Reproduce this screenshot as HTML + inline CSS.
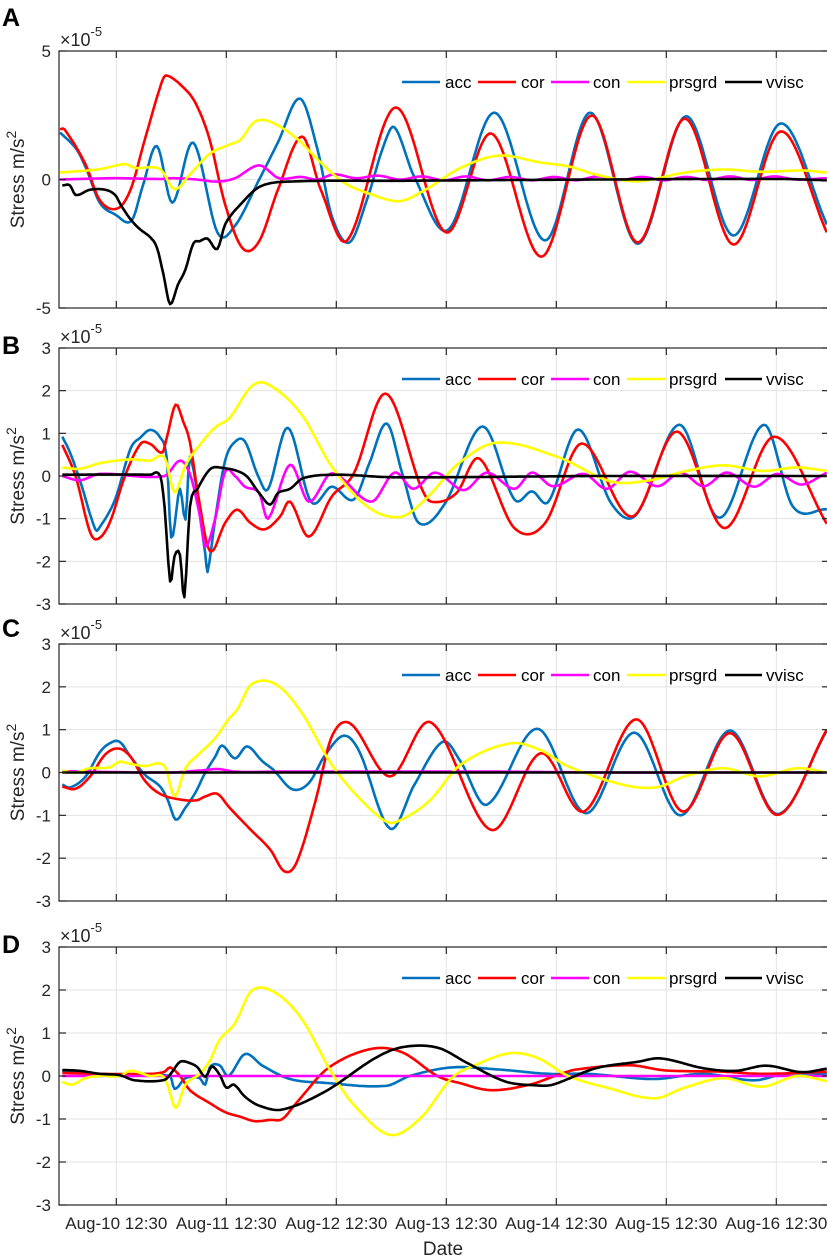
<!DOCTYPE html>
<html><head><meta charset="utf-8"><style>
html,body{margin:0;padding:0;background:#fff;}
svg{display:block;font-family:"Liberation Sans",Arial,sans-serif;}
</style></head><body>
<svg id="chart" width="827" height="1257" viewBox="0 0 827 1257" xmlns="http://www.w3.org/2000/svg"></svg>
<script>
// ---- data (days since Aug-10 00:00, values in 1e-5 m/s^2) ----
const dayTicks = [0.521,1.521,2.521,3.521,4.521,5.521,6.521];
const dayTickLabels = ["Aug-10 12:30","Aug-11 12:30","Aug-12 12:30","Aug-13 12:30","Aug-14 12:30","Aug-15 12:30","Aug-16 12:30"];
const seriesNames = ["acc","cor","con","prsgrd","vvisc"];
const ticksA = [-5,0,5];
const ticksBCD = [-3,-2,-1,0,1,2,3];

const A_acc_t=[0.01,0.16,0.25,0.37,0.51,0.66,0.76,0.89,1.03,1.22,1.44,1.60,1.82,1.99,2.19,2.35,2.48,2.64,2.80,2.95,3.05,3.23,3.54,3.96,4.42,4.83,5.26,5.70,6.13,6.56,6.98];
const A_acc_v=[1.83,1.17,0.4,-0.9,-1.36,-1.6,-0.27,1.3,-0.9,1.43,-2.06,-1.8,0,1.44,3.15,1.17,-1.43,-2.45,-0.78,1.3,2.03,0.1,-1.95,2.6,-2.37,2.6,-2.5,2.46,-2.18,2.18,-1.75];
const A_cor_t=[0.01,0.05,0.24,0.37,0.53,0.65,0.78,0.92,0.97,1.15,1.25,1.37,1.51,1.67,1.82,1.99,2.21,2.38,2.62,3.06,3.52,3.93,4.39,4.84,5.26,5.69,6.13,6.56,6.98];
const A_cor_v=[1.95,1.95,0.6,-0.8,-1.13,-0.4,1.55,3.6,4.05,3.5,2.9,1.55,-0.97,-2.68,-2.4,-0.4,1.67,-0.4,-2.37,2.8,-2.06,1.79,-3.0,2.49,-2.45,2.37,-2.53,1.87,-2.06];
const A_con_t=[0.01,0.5,0.92,1.05,1.25,1.44,1.6,1.82,2.0,2.2,2.35,2.5,2.7,2.9,3.1,3.3,3.5,3.7,3.9,4.1,4.3,4.5,4.7,4.9,5.1,5.3,5.5,5.7,5.9,6.1,6.3,6.5,6.7,6.98];
const A_con_v=[0,0.05,0.02,0.05,0.0,-0.08,0.05,0.55,0.05,0.1,0.0,0.2,0.05,0.15,0.0,0.12,-0.03,0.12,-0.03,0.1,-0.03,0.1,-0.03,0.12,-0.02,0.1,-0.03,0.1,-0.02,0.12,-0.02,0.12,0,0.05];
const A_prs_t=[0.01,0.37,0.60,0.69,0.92,1.05,1.19,1.37,1.55,1.65,1.78,1.92,2.16,2.38,2.59,2.84,3.10,3.33,3.65,4.00,4.38,4.63,4.91,5.26,5.69,6.04,6.39,6.75,6.98];
const A_prs_v=[0.27,0.4,0.6,0.45,0.4,-0.38,0.2,1.0,1.36,1.55,2.25,2.25,1.6,0.66,-0.12,-0.58,-0.84,-0.4,0.45,0.93,0.66,0.51,0.16,-0.07,0.27,0.39,0.3,0.35,0.27];
const A_vis_t=[0.03,0.10,0.15,0.28,0.42,0.51,0.57,0.66,0.74,0.83,0.89,0.95,1.01,1.08,1.15,1.22,1.28,1.35,1.44,1.51,1.65,1.83,2.10,3.10,4.92,6.55,6.98];
const A_vis_v=[-0.23,-0.23,-0.6,-0.4,-0.4,-0.6,-1.05,-1.6,-1.95,-2.25,-2.65,-3.7,-4.85,-4.1,-3.5,-2.5,-2.4,-2.3,-2.7,-1.75,-0.97,-0.27,-0.08,-0.05,0,0.02,-0.03];

const B_acc_t=[0.03,0.10,0.19,0.33,0.37,0.51,0.65,0.74,0.83,0.92,0.98,1.02,1.10,1.15,1.19,1.33,1.35,1.42,1.51,1.60,1.69,1.81,1.90,2.08,2.29,2.48,2.68,2.82,2.98,3.12,3.27,3.51,3.85,4.14,4.30,4.45,4.72,5.02,5.25,5.64,5.94,6.07,6.41,6.67,6.98];
const B_acc_v=[0.92,0.55,-0.1,-1.25,-1.2,-0.55,0.64,0.9,1.08,0.9,0.41,-1.44,-0.3,-1.02,0.45,-1.83,-2.25,-1.0,0.36,0.8,0.81,0,-0.31,1.13,-0.6,-0.25,-0.55,0.29,1.23,0.06,-1.1,-0.64,1.16,-0.55,-0.36,-0.6,1.09,-0.64,-0.9,1.2,-0.83,-0.83,1.2,-0.71,-0.78];
const B_cor_t=[0.03,0.15,0.28,0.35,0.46,0.60,0.74,0.83,0.94,0.98,1.06,1.13,1.19,1.26,1.37,1.51,1.62,1.74,1.87,2.01,2.10,2.27,2.48,2.68,2.97,3.29,3.38,3.61,3.82,4.14,4.42,4.75,5.21,5.62,6.05,6.50,6.98];
const B_cor_v=[0.73,0,-1.3,-1.48,-1.1,0,0.75,0.75,0.55,0.9,1.67,1.27,0.8,-0.37,-1.75,-1.1,-0.79,-1.1,-1.25,-0.95,-0.6,-1.42,-0.48,0.06,1.93,-0.25,-0.6,-0.41,0.41,-1.22,-1.1,0.76,-0.95,1.04,-1.22,0.92,-1.12];
const B_con_t=[0.03,0.19,0.37,0.96,1.10,1.19,1.28,1.33,1.42,1.51,1.60,1.69,1.82,1.90,2.10,2.27,2.48,2.84,3.05,3.22,3.42,3.68,3.89,4.14,4.30,4.49,4.77,4.98,5.19,5.44,5.65,5.86,6.07,6.32,6.53,6.75,6.98];
const B_con_v=[0,-0.1,0.05,0,0.36,0.05,-0.92,-1.65,-1.0,0.1,0,-0.25,-0.4,-1.0,0.26,-0.6,0.06,-0.6,0.08,-0.3,0.08,-0.33,0.08,-0.3,0.08,-0.24,0.05,-0.3,0.1,-0.24,0.08,-0.24,0.08,-0.25,0.05,-0.2,0.08];
const B_prs_t=[0.03,0.19,0.37,0.65,0.83,0.96,1.05,1.15,1.28,1.42,1.55,1.75,1.90,2.20,2.48,2.80,3.10,3.33,3.63,3.98,4.53,5.02,5.37,5.69,6.04,6.39,6.71,6.98];
const B_prs_v=[0.2,0.17,0.3,0.39,0.36,0.43,-0.38,0.25,0.73,1.14,1.36,2.1,2.15,1.46,0.22,-0.71,-0.96,-0.55,0.29,0.78,0.45,-0.13,-0.1,0.11,0.25,0.12,0.2,0.12];
const B_vis_t=[0.03,0.83,0.92,0.96,1.01,1.05,1.10,1.14,1.19,1.26,1.37,1.46,1.69,1.82,1.92,1.99,2.10,2.22,2.52,3.05,4.92,6.98];
const B_vis_v=[0.03,0.03,0,-0.73,-2.47,-1.88,-1.85,-2.84,-0.73,-0.3,0.15,0.2,0.03,-0.4,-0.67,-0.4,-0.3,-0.05,0.03,-0.03,0,0];

const C_acc_t=[0.03,0.10,0.24,0.37,0.46,0.55,0.65,0.78,0.92,0.99,1.06,1.15,1.24,1.33,1.42,1.48,1.60,1.71,1.85,1.95,2.12,2.27,2.42,2.59,2.73,3.01,3.23,3.49,3.65,3.89,4.35,4.79,5.23,5.65,6.10,6.53,6.98];
const C_acc_v=[-0.28,-0.35,-0.1,0.47,0.68,0.72,0.37,-0.05,-0.33,-0.65,-1.1,-0.82,-0.47,0,0.37,0.63,0.33,0.61,0.26,0.06,-0.39,-0.25,0.41,0.86,0.49,-1.31,-0.29,0.72,0.26,-0.75,1.02,-0.95,0.93,-1.0,0.98,-0.97,0.98];
const C_cor_t=[0.03,0.15,0.28,0.42,0.54,0.65,0.78,0.92,1.10,1.25,1.33,1.44,1.55,1.74,1.92,2.05,2.16,2.33,2.48,2.65,3.01,3.38,3.93,4.38,4.77,5.25,5.67,6.10,6.53,6.98];
const C_cor_v=[-0.33,-0.38,-0.1,0.42,0.56,0.37,-0.19,-0.5,-0.63,-0.65,-0.56,-0.5,-0.82,-1.33,-1.8,-2.31,-2.1,-0.68,0.84,1.14,-0.09,1.17,-1.34,0.45,-0.91,1.24,-0.91,0.92,-0.99,1.0];
const C_con_t=[0.03,1.0,1.3,1.45,1.6,2.0,3.0,4.0,5.0,6.0,6.98];
const C_con_v=[0.03,0.0,0.05,0.08,0.02,0.02,0.02,0.02,0,0,0];
const C_prs_t=[0.03,0.15,0.28,0.46,0.55,0.65,0.78,0.96,1.05,1.15,1.28,1.42,1.54,1.62,1.75,1.97,2.20,2.48,2.73,2.97,3.08,3.36,3.65,4.10,4.38,4.63,5.15,5.44,5.69,6.04,6.37,6.71,6.98];
const C_prs_v=[0.04,0,0.1,0.12,0.25,0.2,0.15,0.15,-0.55,0.1,0.45,0.8,1.24,1.47,2.06,2.06,1.42,0.18,-0.6,-1.14,-1.14,-0.68,0.18,0.68,0.52,0.14,-0.3,-0.34,-0.09,0.1,-0.09,0.1,0];
const C_vis_t=[0.03,1.0,2.0,3.0,4.0,5.0,6.0,6.98];
const C_vis_v=[0,0,0,0,0,0,0,0];

const D_acc_t=[0.03,0.19,0.37,1.01,1.05,1.15,1.28,1.33,1.37,1.46,1.54,1.69,1.85,2.10,2.42,2.97,3.19,3.57,4.00,4.45,4.81,5.41,5.86,6.32,6.60,6.98];
const D_acc_v=[0.12,0.07,0.02,0,-0.3,-0.05,-0.05,-0.2,0.2,0.25,0,0.51,0.24,-0.07,-0.16,-0.23,0,0.2,0.15,0.05,0.05,-0.07,0.05,-0.1,0.05,0.05];
const D_cor_t=[0.03,0.37,0.83,0.96,1.01,1.10,1.19,1.37,1.51,1.65,1.78,1.92,2.03,2.16,2.45,2.84,3.12,3.44,3.65,3.93,4.28,4.53,4.70,5.19,5.51,6.04,6.39,6.98];
const D_cor_v=[0.07,0.05,0.05,0.1,0.2,0.0,-0.33,-0.63,-0.84,-0.95,-1.05,-1.02,-1.0,-0.62,0.19,0.63,0.55,0,-0.17,-0.33,-0.2,0.02,0.15,0.25,0.13,0.1,0.05,0.1];
const D_con_t=[0.03,1.0,2.0,3.0,4.0,5.0,6.0,6.98];
const D_con_v=[0,0,0,0,0,0,0,0];
const D_prs_t=[0.03,0.12,0.24,0.37,0.55,0.65,0.83,0.94,0.99,1.06,1.15,1.28,1.37,1.46,1.60,1.75,1.95,2.20,2.48,2.69,3.01,3.29,3.57,3.79,4.10,4.35,4.63,4.98,5.41,5.69,6.04,6.39,6.71,6.98];
const D_prs_v=[-0.14,-0.2,-0.05,0,0,0.12,0,0,-0.23,-0.74,-0.2,0.05,0.35,0.84,1.23,1.98,1.96,1.35,0.07,-0.7,-1.37,-0.97,-0.05,0.26,0.53,0.42,0,-0.27,-0.52,-0.27,-0.05,-0.25,0,-0.12];
const D_vis_t=[0.03,0.19,0.37,0.55,0.69,0.96,1.03,1.10,1.19,1.26,1.33,1.39,1.46,1.52,1.59,1.69,1.82,2.03,2.42,2.87,3.12,3.44,3.72,4.06,4.35,4.49,4.88,5.26,5.47,5.86,6.15,6.43,6.75,6.98];
const D_vis_v=[0.14,0.12,0.05,0.02,-0.1,-0.09,0.1,0.33,0.3,0.2,-0.02,0.22,0.03,-0.27,-0.2,-0.48,-0.69,-0.78,-0.36,0.41,0.67,0.66,0.29,-0.13,-0.22,-0.2,0.18,0.33,0.41,0.18,0.12,0.24,0.09,0.17];

// ---- rendering ----
const NS="http://www.w3.org/2000/svg";
const svg=document.getElementById('chart');
const colors={acc:"#0072BD",cor:"#FF0000",con:"#FF00FF",prsgrd:"#FFFF00",vvisc:"#000000"};
const X0=59, X1=829, PXD=110;
const xOf=d=>X0+d*PXD;
function mk(tag,attrs,parent){const e=document.createElementNS(NS,tag);for(const k in attrs)e.setAttribute(k,attrs[k]);(parent||svg).appendChild(e);return e;}
function smoothPath(ts,vs,yOf){
  const n=ts.length;const m=[];
  for(let i=0;i<n;i++){
    if(i===0)m.push((vs[1]-vs[0])/(ts[1]-ts[0]));
    else if(i===n-1)m.push((vs[n-1]-vs[n-2])/(ts[n-1]-ts[n-2]));
    else m.push((vs[i+1]-vs[i-1])/(ts[i+1]-ts[i-1]));
  }
  let d="M"+xOf(ts[0]).toFixed(1)+","+yOf(vs[0]).toFixed(1);
  for(let i=0;i<n-1;i++){
    const h=ts[i+1]-ts[i];const steps=Math.max(2,Math.ceil(h*PXD/2));
    for(let s=1;s<=steps;s++){
      const u=s/steps,u2=u*u,u3=u2*u;
      const v=(2*u3-3*u2+1)*vs[i]+(u3-2*u2+u)*h*m[i]+(-2*u3+3*u2)*vs[i+1]+(u3-u2)*h*m[i+1];
      d+="L"+xOf(ts[i]+u*h).toFixed(1)+","+yOf(v).toFixed(1);
    }
  }
  return d;
}
const panels=[
 {id:"A",top:51,bot:308,min:-5,max:5,ticks:ticksA,letterY:17,
  s:[[A_acc_t,A_acc_v],[A_cor_t,A_cor_v],[A_con_t,A_con_v],[A_prs_t,A_prs_v],[A_vis_t,A_vis_v]]},
 {id:"B",top:348,bot:604,min:-3,max:3,ticks:ticksBCD,letterY:345,
  s:[[B_acc_t,B_acc_v],[B_cor_t,B_cor_v],[B_con_t,B_con_v],[B_prs_t,B_prs_v],[B_vis_t,B_vis_v]]},
 {id:"C",top:644,bot:901,min:-3,max:3,ticks:ticksBCD,letterY:628,
  s:[[C_acc_t,C_acc_v],[C_cor_t,C_cor_v],[C_con_t,C_con_v],[C_prs_t,C_prs_v],[C_vis_t,C_vis_v]]},
 {id:"D",top:947,bot:1205,min:-3,max:3,ticks:ticksBCD,letterY:944,
  s:[[D_acc_t,D_acc_v],[D_cor_t,D_cor_v],[D_con_t,D_con_v],[D_prs_t,D_prs_v],[D_vis_t,D_vis_v]]}
];
const legX=[[402,440,445],[478,516,521],[551,589,593],[627,665,669],[725,762,766]];
panels.forEach((p,pi)=>{
  const yOf=v=>p.bot-(v-p.min)/(p.max-p.min)*(p.bot-p.top);
  const g=mk('g',{});
  
  
  const cp=mk('clipPath',{id:'clip'+p.id},g);
  mk('rect',{x:X0,y:p.top,width:X1-X0,height:p.bot-p.top},cp);
  dayTicks.forEach(d=>{
    const l=mk('line',{x1:xOf(d),x2:xOf(d),y1:p.top,y2:p.bot,stroke:"#e3e3e3","stroke-width":1},g);
    
    
  });
  p.ticks.forEach(t=>{
    if(t===p.min||t===p.max)return;
    const l=mk('line',{x1:X0,x2:X1,y1:yOf(t),y2:yOf(t),stroke:"#e3e3e3","stroke-width":1},g);
    
    
  });
  p.s.forEach((ser,si)=>{
    const path=mk('path',{d:smoothPath(ser[0],ser[1],yOf),fill:"none",stroke:colors[seriesNames[si]],"stroke-width":2.6,"stroke-linejoin":"round","clip-path":"url(#clip"+p.id+")"},g);
    
    
  });
  const box=mk('rect',{x:X0,y:p.top,width:X1-X0,height:p.bot-p.top,fill:"none",stroke:"#262626","stroke-width":1.2},g);
  
  
  dayTicks.forEach(d=>{
    mk('line',{x1:xOf(d),x2:xOf(d),y1:p.bot,y2:p.bot-7,stroke:"#262626","stroke-width":1.2},g);
    mk('line',{x1:xOf(d),x2:xOf(d),y1:p.top,y2:p.top+7,stroke:"#262626","stroke-width":1.2},g);
  });
  p.ticks.forEach(t=>{
    mk('line',{x1:X0,x2:X0+7,y1:yOf(t),y2:yOf(t),stroke:"#262626","stroke-width":1.2},g);
    mk('line',{x1:X1-7,x2:X1,y1:yOf(t),y2:yOf(t),stroke:"#262626","stroke-width":1.2},g);
    const tl=mk('text',{x:51,y:yOf(t)+6,"text-anchor":"end","font-size":17,fill:"#262626"},g);
    tl.textContent=String(t);
    
    
  });
  const ex=mk('text',{x:60,y:p.top-5,"font-size":18,fill:"#262626"},g);
  ex.innerHTML='×10<tspan font-size="13" dy="-10">-5</tspan>';
  
  
  const lt=mk('text',{x:2,y:p.letterY+9,"font-size":25,"font-weight":"bold",fill:"#000"},g);
  lt.textContent=p.id;
  
  
  const cy=(p.top+p.bot)/2;
  const yl=mk('text',{x:0,y:0,"font-size":19,fill:"#262626","text-anchor":"middle",transform:"translate(24,"+cy+") rotate(-90)"},g);
  yl.innerHTML='Stress m/s<tspan font-size="14" dy="-8">2</tspan>';
  
  
  const lg=mk('g',{},g);
  
  
  const ly=p.top+31;
  seriesNames.forEach((nm,i)=>{
    const e=mk('g',{},lg);
    
    
    mk('line',{x1:legX[i][0],x2:legX[i][1],y1:ly,y2:ly,stroke:colors[nm],"stroke-width":2.6},e);
    const tx=mk('text',{x:legX[i][2],y:ly+6,"font-size":17,fill:"#000"},e);
    tx.textContent=nm;
  });
  if(pi===3){
    dayTicks.forEach((d,i)=>{
      const xl=mk('text',{x:xOf(d),y:1229,"text-anchor":"middle","font-size":17,fill:"#262626"},g);
      xl.textContent=dayTickLabels[i];
      
      
    });
    const xt=mk('text',{x:443,y:1255,"text-anchor":"middle","font-size":19,fill:"#262626"},g);
    xt.textContent="Date";
    
    
  }
});
</script>
</body></html>
